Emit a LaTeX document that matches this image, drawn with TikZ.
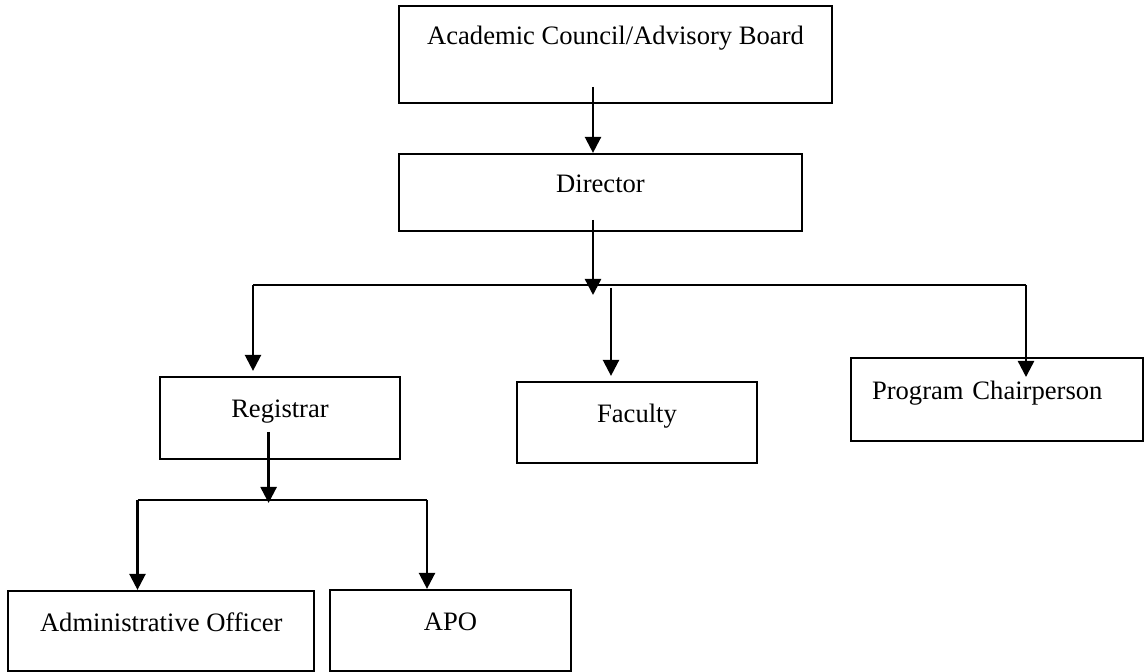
\documentclass[tikz,border=0pt]{standalone}
\usepackage{fontspec}
\setmainfont{Liberation Serif}
\usetikzlibrary{arrows.meta}
\tikzset{
  office/.style={draw, line width=1.1pt, inner sep=0pt, text height=20.5pt, text depth=20.5pt, font=\fontsize{13.3}{16}\selectfont},
  wire/.style={line width=1.2pt},
  link/.style={wire, -{Triangle[length=8pt,width=8pt]}}
}
\begin{document}
\begin{tikzpicture}[x=0.5pt,y=-0.5pt]
    \useasboundingbox (0,0) rectangle (1144,672);
    \node[office, minimum width=216.5pt, text height=19.5pt, text depth=29pt] (council) at (615.5,54.5) {Academic Council/Advisory Board};
    \node[office, minimum width=201.5pt, text height=19.25pt, text depth=19.25pt] (director) at (600.5,192.5) {Director};
    \node[office, minimum width=120pt] (registrar) at (280,418) {Registrar};
    \node[office, minimum width=120pt, text height=20.25pt, text depth=20.25pt] (faculty) at (637,422.5) {Faculty};
    \node[office, text width=125pt, inner xsep=10.5pt, align=left, text height=20.75pt, text depth=20.75pt] (chair) at (997,399.5) {Program Chairperson};
    \node[office, minimum width=153pt, text height=20pt, text depth=20pt] (admin) at (161.3,631) {Administrative Officer};
    \node[office, minimum width=120.5pt, text height=20.25pt, text depth=20.25pt] (apo) at (450.5,630.5) {APO};
    \coordinate (c1) at (593,87);
    \coordinate (c2) at (593,220);
    \coordinate (d1) at (593,295);
    \coordinate (b1) at (253,285);
    \coordinate (b2) at (1026,285);
    \coordinate (p1) at (1026,377);
    \coordinate (f1) at (611,288);
    \coordinate (r1) at (268.6,432);
    \coordinate (r2) at (268.6,503);
    \coordinate (b3) at (137.5,500);
    \coordinate (b4) at (427,500);
    \draw[link] (c1) -- (c1 |- director.north);
    \draw[link] (c2) -- (d1);
    \draw[wire] (b1) -- (b2);
    \draw[link, shorten >=2.5pt] (b1) -- (b1 |- registrar.north);
    \draw[link, shorten >=2.5pt] (f1) -- (f1 |- faculty.north);
    \draw[link] (b2) -- (p1);
    \draw[link] (r1) -- (r2);
    \draw[wire] (b3) -- (b4);
    \draw[link] (b3) -- (b3 |- admin.north);
    \draw[link] (b4) -- (b4 |- apo.north);
\end{tikzpicture}
\end{document}
